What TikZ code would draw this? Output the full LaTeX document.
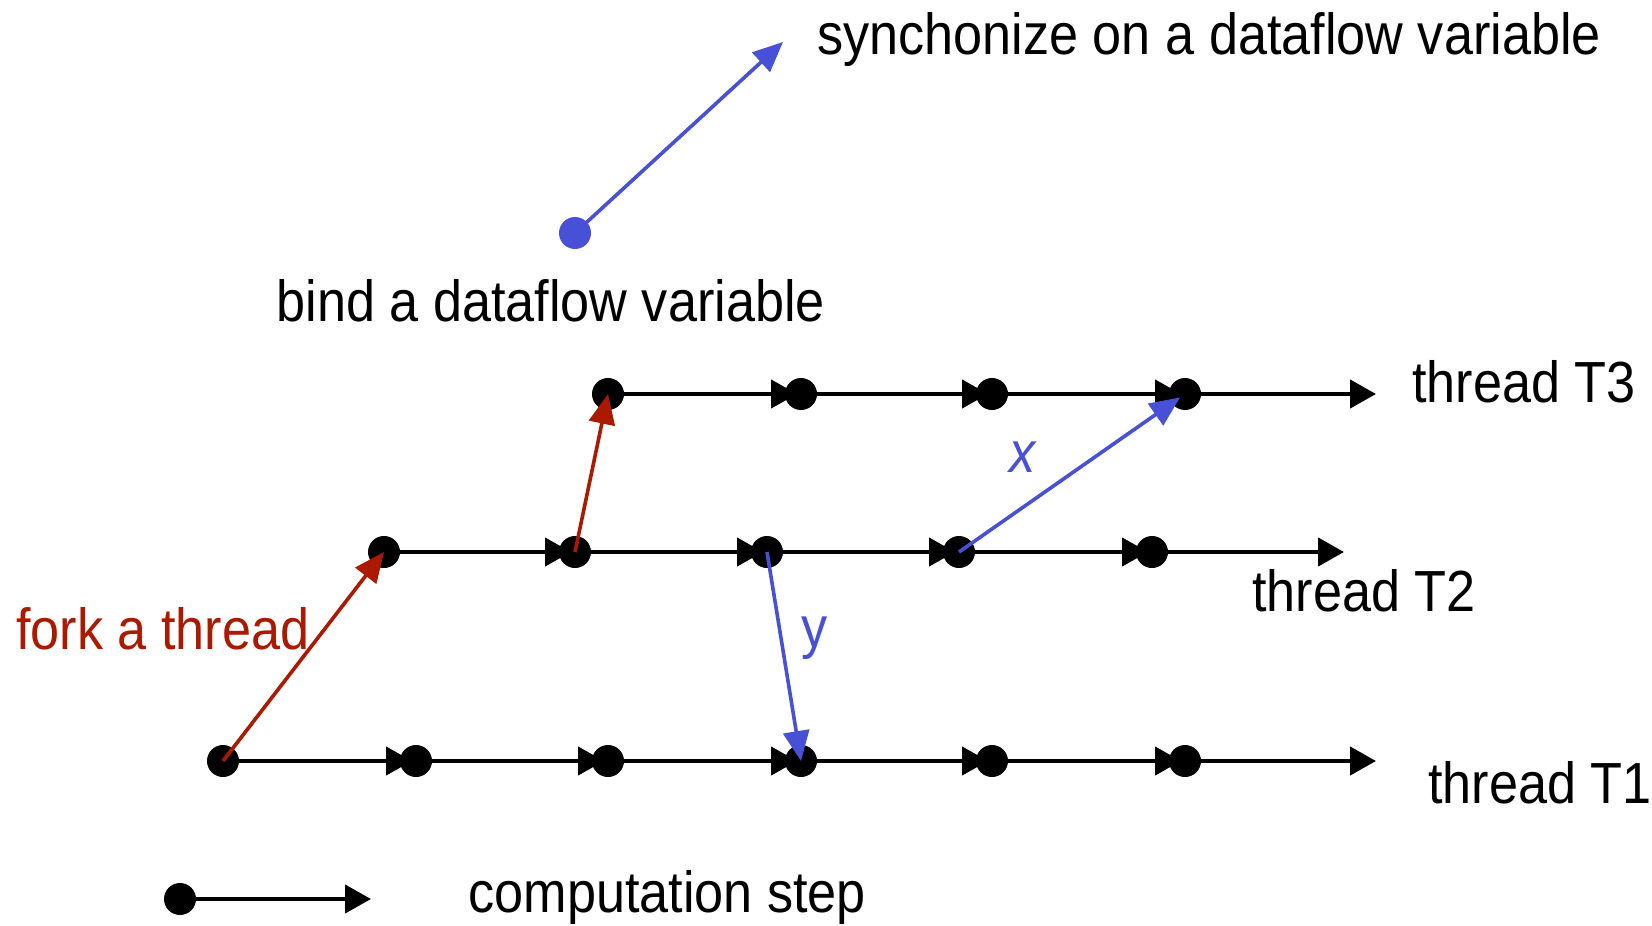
\documentclass[tikz,border=0pt]{standalone}
\usepackage{fontspec}
\setmainfont{Liberation Sans}[FakeStretch=0.9]
\usetikzlibrary{arrows.meta,backgrounds}
\definecolor{dfred}{RGB}{170,25,0}
\definecolor{dfblue}{RGB}{72,80,216}
\tikzset{
 dot/.style={circle,fill=black,inner sep=0pt,minimum size=16pt},
 bluedot/.style={circle,fill=dfblue,inner sep=0pt,minimum size=16pt},
 stepline/.style={line width=2.2pt,-{Triangle[length=13pt,width=14pt]},shorten >=2pt},
 forkarrow/.style={dfred,line width=1.8pt,-{Triangle[length=15pt,width=13pt]}},
 syncarrow/.style={dfblue,line width=1.8pt,-{Triangle[length=15pt,width=13pt]}},
 lbl/.style={anchor=base west,inner sep=0pt,font=\fontsize{29}{34}\selectfont},
}
\begin{document}
\begin{tikzpicture}[x=0.5pt,y=-0.5pt]
\useasboundingbox (0,0) rectangle (1652,925);
% thread T1
\foreach \i/\x in {0/223,1/416,2/608,3/801,4/992,5/1185}
  \node[dot] (a\i) at (\x,761) {};
\coordinate (aend) at (1376,761);
% thread T2
\foreach \i/\x in {0/384,1/575,2/767,3/959,4/1152}
  \node[dot] (b\i) at (\x,552) {};
\coordinate (bend) at (1344,552);
% thread T3
\foreach \i/\x in {0/608,1/801,2/992,3/1185}
  \node[dot] (c\i) at (\x,394) {};
\coordinate (cend) at (1376,394);
% legend
\node[dot] (l0) at (180,899) {};
\coordinate (l1) at (371,899);
% bind / sync legend
\node[bluedot] (bind) at (575,233) {};
\coordinate (sync) at (783,42);

\begin{scope}[on background layer]
\foreach \i [evaluate=\i as \j using int(\i+1)] in {0,...,4}
  \draw[stepline] (a\i.center) -- (a\j.center);
\draw[stepline,shorten >=0pt] (a5.center) -- (aend);
\foreach \i [evaluate=\i as \j using int(\i+1)] in {0,...,3}
  \draw[stepline] (b\i.center) -- (b\j.center);
\draw[stepline,shorten >=0pt] (b4.center) -- (bend);
\foreach \i [evaluate=\i as \j using int(\i+1)] in {0,...,2}
  \draw[stepline] (c\i.center) -- (c\j.center);
\draw[stepline,shorten >=0pt] (c3.center) -- (cend);
\draw[stepline,shorten >=0pt] (l0.center) -- (l1);
\end{scope}

% fork arrows
\draw[forkarrow] (a0.center) -- (b0.center);
\draw[forkarrow] (b1.center) -- (c0.center);
% sync arrows
\draw[syncarrow] (b2.center) -- (a3.center);
\draw[syncarrow,shorten >=3pt] (b3.center) -- (c3.center);
\draw[syncarrow] (bind.center) -- (sync);

% labels
\node[lbl] (tsync) at (817,55) {synchonize on a dataflow variable};
\node[lbl] (tbind) at (276,321) {bind a dataflow variable};
\node[lbl] (t3) at (1412,402) {thread T3};
\node[lbl] (t2) at (1252,611) {thread T2};
\node[lbl] (t1) at (1428,803) {thread T1};
\node[lbl,text=dfred] (tfork) at (16,649) {fork a thread};
\node[lbl] (tstep) at (468,912) {computation step};
\node[lbl,text=dfblue] (tx) at (1009,472) {\itshape x};
\node[lbl,text=dfblue] (ty) at (801,647) {y};
\end{tikzpicture}
\end{document}
